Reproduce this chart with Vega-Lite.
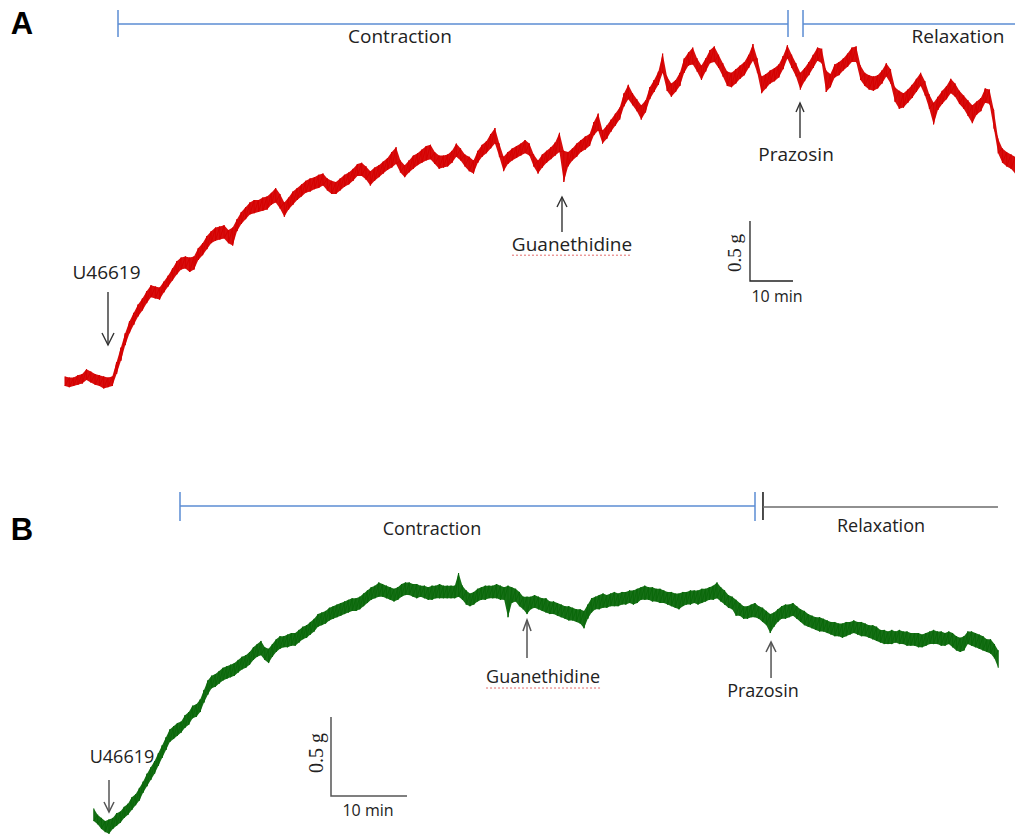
{
"$schema":"https://vega.github.io/schema/vega-lite/v6.json",
"width":1015,"height":839,"padding":0,"autosize":{"type":"none"},
"background":"white",
"config":{"view":{"stroke":null}},
"datasets":{
"A":[
{"t":-10,"h":0.03,"l":-0.05},{"t":-9,"h":0.02,"l":-0.06},{"t":-8,"h":0.02,"l":-0.05},{"t":-7,"h":0.04,"l":-0.04},{"t":-6,"h":0.05,"l":-0.03},{"t":-5,"h":0.09,"l":0.0},{"t":-4,"h":0.07,"l":-0.02},{"t":-3,"h":0.05,"l":-0.04},{"t":-2,"h":0.04,"l":-0.05},{"t":-1,"h":0.03,"l":-0.07},
{"t":0,"h":0.02,"l":-0.06},{"t":1,"h":0.03,"l":-0.05},{"t":2,"h":0.15,"l":0.05},{"t":3,"h":0.27,"l":0.16},{"t":4,"h":0.39,"l":0.29},{"t":5,"h":0.49,"l":0.39},{"t":6,"h":0.56,"l":0.46},{"t":7,"h":0.63,"l":0.53},{"t":8,"h":0.68,"l":0.58},{"t":9,"h":0.74,"l":0.64},
{"t":10,"h":0.79,"l":0.69},{"t":11,"h":0.78,"l":0.68},{"t":12,"h":0.77,"l":0.67},{"t":13,"h":0.82,"l":0.73},{"t":14,"h":0.87,"l":0.78},{"t":15,"h":0.93,"l":0.83},{"t":16,"h":0.99,"l":0.88},{"t":17,"h":1.02,"l":0.92},{"t":18,"h":1.03,"l":0.93},{"t":19,"h":1.02,"l":0.90},
{"t":20,"h":1.03,"l":0.92},{"t":21,"h":1.10,"l":1.00},{"t":22,"h":1.14,"l":1.04},{"t":23,"h":1.20,"l":1.09},{"t":24,"h":1.24,"l":1.14},{"t":25,"h":1.27,"l":1.16},{"t":26,"h":1.28,"l":1.17},{"t":27,"h":1.29,"l":1.18},{"t":28,"h":1.25,"l":1.14},{"t":29,"h":1.27,"l":1.12},
{"t":30,"h":1.34,"l":1.24},{"t":31,"h":1.40,"l":1.30},{"t":32,"h":1.44,"l":1.34},{"t":33,"h":1.48,"l":1.38},{"t":34,"h":1.50,"l":1.39},{"t":35,"h":1.50,"l":1.40},{"t":36,"h":1.52,"l":1.41},{"t":37,"h":1.53,"l":1.42},{"t":38,"h":1.56,"l":1.46},{"t":39,"h":1.60,"l":1.48},
{"t":40,"h":1.55,"l":1.43},{"t":41,"h":1.48,"l":1.36},{"t":42,"h":1.52,"l":1.42},{"t":43,"h":1.57,"l":1.46},{"t":44,"h":1.60,"l":1.50},{"t":45,"h":1.63,"l":1.53},{"t":46,"h":1.66,"l":1.56},{"t":47,"h":1.68,"l":1.57},{"t":48,"h":1.69,"l":1.59},{"t":49,"h":1.71,"l":1.60},
{"t":50,"h":1.72,"l":1.62},{"t":51,"h":1.68,"l":1.58},{"t":52,"h":1.66,"l":1.55},{"t":53,"h":1.65,"l":1.55},{"t":54,"h":1.68,"l":1.58},{"t":55,"h":1.71,"l":1.61},{"t":56,"h":1.73,"l":1.63},{"t":57,"h":1.76,"l":1.66},{"t":58,"h":1.80,"l":1.70},{"t":59,"h":1.81,"l":1.70},
{"t":60,"h":1.78,"l":1.67},{"t":61,"h":1.74,"l":1.62},{"t":62,"h":1.77,"l":1.66},{"t":63,"h":1.79,"l":1.69},{"t":64,"h":1.82,"l":1.72},{"t":65,"h":1.85,"l":1.75},{"t":66,"h":1.90,"l":1.77},{"t":67,"h":1.94,"l":1.80},{"t":68,"h":1.83,"l":1.73},{"t":69,"h":1.79,"l":1.69},
{"t":70,"h":1.83,"l":1.73},{"t":71,"h":1.87,"l":1.76},{"t":72,"h":1.89,"l":1.79},{"t":73,"h":1.92,"l":1.81},{"t":74,"h":1.95,"l":1.83},{"t":75,"h":1.96,"l":1.84},{"t":76,"h":1.90,"l":1.80},{"t":77,"h":1.87,"l":1.76},{"t":78,"h":1.87,"l":1.77},{"t":79,"h":1.88,"l":1.78},
{"t":80,"h":1.91,"l":1.81},{"t":81,"h":1.97,"l":1.86},{"t":82,"h":1.93,"l":1.83},{"t":83,"h":1.88,"l":1.78},{"t":84,"h":1.86,"l":1.74},{"t":85,"h":1.83,"l":1.72},{"t":86,"h":1.91,"l":1.81},{"t":87,"h":1.96,"l":1.86},{"t":88,"h":1.99,"l":1.89},{"t":89,"h":2.05,"l":1.93},
{"t":90,"h":2.10,"l":1.97},{"t":91,"h":1.97,"l":1.86},{"t":92,"h":1.86,"l":1.74},{"t":93,"h":1.90,"l":1.80},{"t":94,"h":1.93,"l":1.83},{"t":95,"h":1.95,"l":1.85},{"t":96,"h":1.97,"l":1.87},{"t":97,"h":2.00,"l":1.89},{"t":98,"h":1.97,"l":1.87},{"t":99,"h":1.88,"l":1.78},
{"t":100,"h":1.83,"l":1.72},{"t":101,"h":1.88,"l":1.77},{"t":102,"h":1.91,"l":1.81},{"t":103,"h":1.94,"l":1.84},{"t":104,"h":1.98,"l":1.87},{"t":105,"h":2.06,"l":1.90},{"t":106,"h":1.91,"l":1.65},{"t":107,"h":1.90,"l":1.78},{"t":108,"h":1.93,"l":1.83},{"t":109,"h":1.97,"l":1.86},
{"t":110,"h":2.00,"l":1.90},{"t":111,"h":2.03,"l":1.92},{"t":112,"h":2.05,"l":1.95},{"t":113,"h":2.15,"l":2.04},{"t":114,"h":2.22,"l":2.08},{"t":115,"h":2.08,"l":1.97},{"t":116,"h":2.12,"l":2.01},{"t":117,"h":2.17,"l":2.07},{"t":118,"h":2.22,"l":2.12},{"t":119,"h":2.27,"l":2.17},
{"t":120,"h":2.39,"l":2.28},{"t":121,"h":2.46,"l":2.34},{"t":122,"h":2.39,"l":2.29},{"t":123,"h":2.34,"l":2.24},{"t":124,"h":2.29,"l":2.17},{"t":125,"h":2.33,"l":2.23},{"t":126,"h":2.44,"l":2.34},{"t":127,"h":2.50,"l":2.40},{"t":128,"h":2.57,"l":2.46},{"t":129,"h":2.72,"l":2.56},
{"t":130,"h":2.53,"l":2.41},{"t":131,"h":2.47,"l":2.36},{"t":132,"h":2.50,"l":2.40},{"t":133,"h":2.56,"l":2.45},{"t":134,"h":2.68,"l":2.56},{"t":135,"h":2.73,"l":2.62},{"t":136,"h":2.77,"l":2.63},{"t":137,"h":2.68,"l":2.57},{"t":138,"h":2.62,"l":2.50},{"t":139,"h":2.68,"l":2.57},
{"t":140,"h":2.75,"l":2.64},{"t":141,"h":2.78,"l":2.65},{"t":142,"h":2.71,"l":2.60},{"t":143,"h":2.64,"l":2.53},{"t":144,"h":2.57,"l":2.45},{"t":145,"h":2.56,"l":2.44},{"t":146,"h":2.59,"l":2.47},{"t":147,"h":2.62,"l":2.51},{"t":148,"h":2.65,"l":2.54},{"t":149,"h":2.71,"l":2.60},
{"t":150,"h":2.80,"l":2.66},{"t":151,"h":2.68,"l":2.56},{"t":152,"h":2.53,"l":2.39},{"t":153,"h":2.55,"l":2.43},{"t":154,"h":2.58,"l":2.47},{"t":155,"h":2.60,"l":2.49},{"t":156,"h":2.63,"l":2.52},{"t":157,"h":2.70,"l":2.59},{"t":158,"h":2.79,"l":2.68},{"t":159,"h":2.71,"l":2.60},
{"t":160,"h":2.64,"l":2.53},{"t":161,"h":2.56,"l":2.42},{"t":162,"h":2.60,"l":2.49},{"t":163,"h":2.65,"l":2.54},{"t":164,"h":2.71,"l":2.60},{"t":165,"h":2.77,"l":2.66},{"t":166,"h":2.76,"l":2.64},{"t":167,"h":2.58,"l":2.40},{"t":168,"h":2.55,"l":2.44},{"t":169,"h":2.63,"l":2.52},
{"t":170,"h":2.65,"l":2.54},{"t":171,"h":2.68,"l":2.58},{"t":172,"h":2.72,"l":2.61},{"t":173,"h":2.77,"l":2.65},{"t":174,"h":2.78,"l":2.65},{"t":175,"h":2.62,"l":2.50},{"t":176,"h":2.56,"l":2.45},{"t":177,"h":2.54,"l":2.42},{"t":178,"h":2.53,"l":2.41},{"t":179,"h":2.54,"l":2.43},
{"t":180,"h":2.58,"l":2.47},{"t":181,"h":2.64,"l":2.53},{"t":182,"h":2.59,"l":2.47},{"t":183,"h":2.44,"l":2.32},{"t":184,"h":2.41,"l":2.26},{"t":185,"h":2.39,"l":2.27},{"t":186,"h":2.42,"l":2.31},{"t":187,"h":2.46,"l":2.35},{"t":188,"h":2.51,"l":2.40},{"t":189,"h":2.56,"l":2.45},
{"t":190,"h":2.49,"l":2.37},{"t":191,"h":2.38,"l":2.26},{"t":192,"h":2.31,"l":2.13},{"t":193,"h":2.36,"l":2.25},{"t":194,"h":2.41,"l":2.30},{"t":195,"h":2.45,"l":2.34},{"t":196,"h":2.51,"l":2.39},{"t":197,"h":2.47,"l":2.36},{"t":198,"h":2.41,"l":2.30},{"t":199,"h":2.37,"l":2.26},
{"t":200,"h":2.33,"l":2.20},{"t":201,"h":2.29,"l":2.14},{"t":202,"h":2.32,"l":2.21},{"t":203,"h":2.35,"l":2.24},{"t":204,"h":2.43,"l":2.31},{"t":205,"h":2.42,"l":2.30},{"t":206,"h":2.25,"l":2.10},{"t":207,"h":2.01,"l":1.89},{"t":208,"h":1.93,"l":1.81},{"t":209,"h":1.90,"l":1.78},
{"t":210,"h":1.88,"l":1.76},{"t":211,"h":1.86,"l":1.72}
],
"B":[
{"t":-2,"h":0.01,"l":-0.07},{"t":-1.5,"h":-0.03,"l":-0.09},{"t":-1,"h":-0.05,"l":-0.12},{"t":-0.5,"h":-0.07,"l":-0.14},{"t":0,"h":-0.06,"l":-0.15},{"t":0.5,"h":-0.05,"l":-0.12},{"t":1,"h":-0.02,"l":-0.10},{"t":1.5,"h":-0.01,"l":-0.08},{"t":2,"h":0.02,"l":-0.05},{"t":2.5,"h":0.04,"l":-0.03},
{"t":3,"h":0.08,"l":0.0},{"t":3.5,"h":0.10,"l":0.03},{"t":4,"h":0.14,"l":0.06},{"t":4.5,"h":0.18,"l":0.11},{"t":5,"h":0.23,"l":0.15},{"t":5.5,"h":0.27,"l":0.19},{"t":6,"h":0.31,"l":0.23},{"t":6.5,"h":0.36,"l":0.28},{"t":7,"h":0.41,"l":0.33},{"t":7.5,"h":0.46,"l":0.38},
{"t":8,"h":0.51,"l":0.43},{"t":8.5,"h":0.53,"l":0.45},{"t":9,"h":0.55,"l":0.47},{"t":9.5,"h":0.56,"l":0.49},{"t":10,"h":0.60,"l":0.52},{"t":10.5,"h":0.62,"l":0.54},{"t":11,"h":0.66,"l":0.58},{"t":11.5,"h":0.67,"l":0.59},{"t":12,"h":0.70,"l":0.62},{"t":12.5,"h":0.76,"l":0.68},
{"t":13,"h":0.82,"l":0.73},{"t":13.5,"h":0.85,"l":0.77},{"t":14,"h":0.86,"l":0.78},{"t":14.5,"h":0.88,"l":0.80},{"t":15,"h":0.90,"l":0.82},{"t":15.5,"h":0.91,"l":0.83},{"t":16,"h":0.92,"l":0.84},{"t":16.5,"h":0.93,"l":0.85},{"t":17,"h":0.95,"l":0.87},{"t":17.5,"h":0.97,"l":0.89},
{"t":18,"h":0.98,"l":0.90},{"t":18.5,"h":1.00,"l":0.92},{"t":19,"h":1.03,"l":0.95},{"t":19.5,"h":1.05,"l":0.97},{"t":20,"h":1.07,"l":0.98},{"t":20.5,"h":1.03,"l":0.95},{"t":21,"h":1.02,"l":0.93},{"t":21.5,"h":1.05,"l":0.97},{"t":22,"h":1.08,"l":1.00},{"t":22.5,"h":1.10,"l":1.02},
{"t":23,"h":1.10,"l":1.03},{"t":23.5,"h":1.11,"l":1.03},{"t":24,"h":1.12,"l":1.04},{"t":24.5,"h":1.12,"l":1.04},{"t":25,"h":1.14,"l":1.06},{"t":25.5,"h":1.16,"l":1.08},{"t":26,"h":1.17,"l":1.09},{"t":26.5,"h":1.19,"l":1.11},{"t":27,"h":1.21,"l":1.13},{"t":27.5,"h":1.24,"l":1.16},
{"t":28,"h":1.25,"l":1.17},{"t":28.5,"h":1.26,"l":1.18},{"t":29,"h":1.28,"l":1.20},{"t":29.5,"h":1.29,"l":1.21},{"t":30,"h":1.30,"l":1.22},{"t":30.5,"h":1.31,"l":1.23},{"t":31,"h":1.32,"l":1.24},{"t":31.5,"h":1.33,"l":1.25},{"t":32,"h":1.34,"l":1.26},{"t":32.5,"h":1.34,"l":1.26},
{"t":33,"h":1.35,"l":1.27},{"t":33.5,"h":1.37,"l":1.29},{"t":34,"h":1.39,"l":1.31},{"t":34.5,"h":1.41,"l":1.33},{"t":35,"h":1.42,"l":1.34},{"t":35.5,"h":1.44,"l":1.35},{"t":36,"h":1.43,"l":1.35},{"t":36.5,"h":1.42,"l":1.34},{"t":37,"h":1.41,"l":1.33},{"t":37.5,"h":1.40,"l":1.32},
{"t":38,"h":1.41,"l":1.33},{"t":38.5,"h":1.43,"l":1.35},{"t":39,"h":1.44,"l":1.36},{"t":39.5,"h":1.44,"l":1.36},{"t":40,"h":1.43,"l":1.35},{"t":40.5,"h":1.43,"l":1.34},{"t":41,"h":1.42,"l":1.35},{"t":41.5,"h":1.42,"l":1.34},{"t":42,"h":1.41,"l":1.33},{"t":42.5,"h":1.42,"l":1.33},
{"t":43,"h":1.42,"l":1.34},{"t":43.5,"h":1.43,"l":1.34},{"t":44,"h":1.42,"l":1.34},{"t":44.5,"h":1.42,"l":1.34},{"t":45,"h":1.42,"l":1.34},{"t":45.5,"h":1.42,"l":1.34},{"t":46,"h":1.50,"l":1.35},{"t":46.5,"h":1.42,"l":1.33},{"t":47,"h":1.39,"l":1.30},{"t":47.5,"h":1.37,"l":1.29},
{"t":48,"h":1.38,"l":1.30},{"t":48.5,"h":1.40,"l":1.32},{"t":49,"h":1.41,"l":1.33},{"t":49.5,"h":1.42,"l":1.33},{"t":50,"h":1.42,"l":1.34},{"t":50.5,"h":1.42,"l":1.34},{"t":51,"h":1.43,"l":1.34},{"t":51.5,"h":1.42,"l":1.33},{"t":52,"h":1.41,"l":1.33},{"t":52.5,"h":1.42,"l":1.22},
{"t":53,"h":1.41,"l":1.31},{"t":53.5,"h":1.40,"l":1.32},{"t":54,"h":1.38,"l":1.29},{"t":54.5,"h":1.35,"l":1.27},{"t":55,"h":1.35,"l":1.24},{"t":55.5,"h":1.35,"l":1.27},{"t":56,"h":1.36,"l":1.28},{"t":56.5,"h":1.35,"l":1.27},{"t":57,"h":1.34,"l":1.26},{"t":57.5,"h":1.34,"l":1.25},
{"t":58,"h":1.32,"l":1.24},{"t":58.5,"h":1.32,"l":1.24},{"t":59,"h":1.31,"l":1.23},{"t":59.5,"h":1.30,"l":1.22},{"t":60,"h":1.29,"l":1.21},{"t":60.5,"h":1.29,"l":1.20},{"t":61,"h":1.28,"l":1.20},{"t":61.5,"h":1.27,"l":1.19},{"t":62,"h":1.27,"l":1.18},{"t":62.5,"h":1.26,"l":1.15},
{"t":63,"h":1.30,"l":1.21},{"t":63.5,"h":1.34,"l":1.25},{"t":64,"h":1.35,"l":1.27},{"t":64.5,"h":1.36,"l":1.27},{"t":65,"h":1.37,"l":1.28},{"t":65.5,"h":1.36,"l":1.28},{"t":66,"h":1.37,"l":1.29},{"t":66.5,"h":1.38,"l":1.29},{"t":67,"h":1.37,"l":1.29},{"t":67.5,"h":1.38,"l":1.30},
{"t":68,"h":1.38,"l":1.30},{"t":68.5,"h":1.39,"l":1.31},{"t":69,"h":1.39,"l":1.30},{"t":69.5,"h":1.40,"l":1.31},{"t":70,"h":1.41,"l":1.33},{"t":70.5,"h":1.42,"l":1.33},{"t":71,"h":1.41,"l":1.33},{"t":71.5,"h":1.41,"l":1.32},{"t":72,"h":1.40,"l":1.32},{"t":72.5,"h":1.40,"l":1.31},
{"t":73,"h":1.39,"l":1.31},{"t":73.5,"h":1.38,"l":1.30},{"t":74,"h":1.38,"l":1.29},{"t":74.5,"h":1.37,"l":1.28},{"t":75,"h":1.37,"l":1.27},{"t":75.5,"h":1.38,"l":1.29},{"t":76,"h":1.38,"l":1.30},{"t":76.5,"h":1.39,"l":1.30},{"t":77,"h":1.39,"l":1.31},{"t":77.5,"h":1.39,"l":1.30},
{"t":78,"h":1.40,"l":1.31},{"t":78.5,"h":1.40,"l":1.32},{"t":79,"h":1.41,"l":1.33},{"t":79.5,"h":1.42,"l":1.33},{"t":80,"h":1.44,"l":1.34},{"t":80.5,"h":1.41,"l":1.32},{"t":81,"h":1.39,"l":1.30},{"t":81.5,"h":1.36,"l":1.28},{"t":82,"h":1.35,"l":1.27},{"t":82.5,"h":1.33,"l":1.23},
{"t":83,"h":1.31,"l":1.23},{"t":83.5,"h":1.29,"l":1.21},{"t":84,"h":1.29,"l":1.21},{"t":84.5,"h":1.30,"l":1.22},{"t":85,"h":1.31,"l":1.22},{"t":85.5,"h":1.29,"l":1.21},{"t":86,"h":1.28,"l":1.19},{"t":86.5,"h":1.26,"l":1.17},{"t":87,"h":1.24,"l":1.12},{"t":87.5,"h":1.25,"l":1.16},
{"t":88,"h":1.27,"l":1.19},{"t":88.5,"h":1.29,"l":1.21},{"t":89,"h":1.30,"l":1.21},{"t":89.5,"h":1.30,"l":1.22},{"t":90,"h":1.31,"l":1.23},{"t":90.5,"h":1.29,"l":1.21},{"t":91,"h":1.27,"l":1.19},{"t":91.5,"h":1.26,"l":1.17},{"t":92,"h":1.24,"l":1.16},{"t":92.5,"h":1.23,"l":1.15},
{"t":93,"h":1.22,"l":1.14},{"t":93.5,"h":1.22,"l":1.13},{"t":94,"h":1.21,"l":1.13},{"t":94.5,"h":1.20,"l":1.12},{"t":95,"h":1.19,"l":1.11},{"t":95.5,"h":1.19,"l":1.10},{"t":96,"h":1.18,"l":1.10},{"t":96.5,"h":1.18,"l":1.09},{"t":97,"h":1.19,"l":1.10},{"t":97.5,"h":1.19,"l":1.11},
{"t":98,"h":1.20,"l":1.12},{"t":98.5,"h":1.19,"l":1.11},{"t":99,"h":1.19,"l":1.10},{"t":99.5,"h":1.18,"l":1.10},{"t":100,"h":1.17,"l":1.09},{"t":100.5,"h":1.17,"l":1.08},{"t":101,"h":1.16,"l":1.07},{"t":101.5,"h":1.14,"l":1.06},{"t":102,"h":1.14,"l":1.05},{"t":102.5,"h":1.13,"l":1.05},
{"t":103,"h":1.14,"l":1.05},{"t":103.5,"h":1.13,"l":1.06},{"t":104,"h":1.14,"l":1.05},{"t":104.5,"h":1.13,"l":1.05},{"t":105,"h":1.13,"l":1.04},{"t":105.5,"h":1.12,"l":1.04},{"t":106,"h":1.12,"l":1.04},{"t":106.5,"h":1.12,"l":1.03},{"t":107,"h":1.11,"l":1.03},{"t":107.5,"h":1.12,"l":1.04},
{"t":108,"h":1.13,"l":1.05},{"t":108.5,"h":1.14,"l":1.05},{"t":109,"h":1.13,"l":1.05},{"t":109.5,"h":1.13,"l":1.04},{"t":110,"h":1.12,"l":1.04},{"t":110.5,"h":1.13,"l":1.05},{"t":111,"h":1.12,"l":1.03},{"t":111.5,"h":1.10,"l":1.01},{"t":112,"h":1.09,"l":1.00},{"t":112.5,"h":1.10,"l":1.01},
{"t":113,"h":1.13,"l":1.05},{"t":113.5,"h":1.13,"l":1.04},{"t":114,"h":1.12,"l":1.03},{"t":114.5,"h":1.11,"l":1.02},{"t":115,"h":1.10,"l":1.01},{"t":115.5,"h":1.08,"l":1.00},{"t":116,"h":1.08,"l":0.99},{"t":116.5,"h":1.05,"l":0.96},{"t":117,"h":1.01,"l":0.90}
]
},
"layer":[
{"layer":[
{"data":{"name":"A"},
 "mark":{"type":"area","color":"#d50000","opacity":0.95},
 "encoding":{
  "x":{"field":"t","type":"quantitative","scale":{"domain":[-25.116,210.93],"nice":false,"zero":false},"axis":null},
  "y":{"field":"h","type":"quantitative","scale":{"domain":[-3.825,3.1667],"nice":false,"zero":false},"axis":null},
  "y2":{"field":"l"}}},
{"data":{"name":"A"},"transform":[{"fold":["h","l"],"as":["k","g"]}],
 "mark":{"type":"line","color":"#d50000","strokeWidth":1,"strokeJoin":"bevel"},
 "encoding":{
  "x":{"field":"t","type":"quantitative","axis":null},
  "y":{"field":"g","type":"quantitative","axis":null},
  "order":[{"field":"t","type":"quantitative"},{"field":"k","type":"nominal"}]}},
{"data":{"values":[
{"id":"a1","o":0,"t":2.326,"g":2.967,"k":"br"},{"id":"a1","o":1,"t":158.14,"g":2.967,"k":"br"},
{"id":"a2","o":0,"t":2.326,"g":3.083,"k":"br"},{"id":"a2","o":1,"t":2.326,"g":2.858,"k":"br"},
{"id":"a3","o":0,"t":158.14,"g":3.083,"k":"br"},{"id":"a3","o":1,"t":158.14,"g":2.858,"k":"br"},
{"id":"a4","o":0,"t":161.63,"g":3.083,"k":"br"},{"id":"a4","o":1,"t":161.63,"g":2.858,"k":"br"},
{"id":"a5","o":0,"t":161.63,"g":2.967,"k":"br"},{"id":"a5","o":1,"t":210.93,"g":2.967,"k":"br"},
{"id":"a6","o":0,"t":0,"g":0.733,"k":"ar"},{"id":"a6","o":1,"t":0,"g":0.292,"k":"ar"},
{"id":"a7","o":0,"t":-1.395,"g":0.392,"k":"ar"},{"id":"a7","o":1,"t":0,"g":0.292,"k":"ar"},{"id":"a7","o":2,"t":1.395,"g":0.392,"k":"ar"},
{"id":"a8","o":0,"t":105.58,"g":1.525,"k":"ar"},{"id":"a8","o":1,"t":105.58,"g":1.233,"k":"ar"},
{"id":"a9","o":0,"t":104.42,"g":1.442,"k":"ar"},{"id":"a9","o":1,"t":105.58,"g":1.525,"k":"ar"},{"id":"a9","o":2,"t":106.74,"g":1.442,"k":"ar"},
{"id":"a10","o":0,"t":160.93,"g":2.308,"k":"ar"},{"id":"a10","o":1,"t":160.93,"g":2.017,"k":"ar"},
{"id":"a11","o":0,"t":160.0,"g":2.233,"k":"ar"},{"id":"a11","o":1,"t":160.93,"g":2.308,"k":"ar"},{"id":"a11","o":2,"t":161.86,"g":2.233,"k":"ar"},
{"id":"a12","o":0,"t":149.3,"g":1.325,"k":"sc"},{"id":"a12","o":1,"t":149.3,"g":0.825,"k":"sc"},{"id":"a12","o":2,"t":159.3,"g":0.825,"k":"sc"}
]},
 "mark":{"type":"line"},
 "encoding":{
  "x":{"field":"t","type":"quantitative","axis":null},
  "y":{"field":"g","type":"quantitative","axis":null},
  "detail":{"field":"id"},
  "order":{"field":"o","type":"quantitative"},
  "color":{"field":"k","type":"nominal","scale":{"domain":["br","ar","sc"],"range":["#5b8cd3","#333333","#222222"]},"legend":null},
  "strokeWidth":{"field":"k","type":"nominal","scale":{"domain":["br","ar","sc"],"range":[1.5,1.3,1.5]},"legend":null}}},
{"data":{"values":[{"t":93.95,"g":1.04},{"t":121.86,"g":1.04}]},
 "mark":{"type":"line","color":"#e36a6a","strokeWidth":1,"strokeDash":[2,2]},
 "encoding":{"x":{"field":"t","type":"quantitative","axis":null},"y":{"field":"g","type":"quantitative","axis":null}}},
{"data":{"values":[
{"t":67.91,"g":2.858,"s":"Contraction"},{"t":197.67,"g":2.858,"s":"Relaxation"},{"t":160.0,"g":1.875,"s":"Prazosin"},{"t":107.91,"g":1.125,"s":"Guanethidine"},{"t":-0.35,"g":0.892,"s":"U46619"}]},
 "mark":{"type":"text","font":"Open Sans","fontSize":19,"color":"#222222","align":"center","baseline":"middle"},
 "encoding":{"x":{"field":"t","type":"quantitative","axis":null},"y":{"field":"g","type":"quantitative","axis":null},"text":{"field":"s"}}},
{"data":{"values":[{"t":155.58,"g":0.692,"s":"10 min"}]},
 "mark":{"type":"text","font":"Open Sans","fontSize":16,"color":"#222222","align":"center","baseline":"middle"},
 "encoding":{"x":{"field":"t","type":"quantitative","axis":null},"y":{"field":"g","type":"quantitative","axis":null},"text":{"field":"s"}}},
{"data":{"values":[{"t":145.81,"g":1.058,"s":"0.5 g"}]},
 "mark":{"type":"text","font":"Liberation Serif","fontSize":19,"color":"#222222","align":"center","baseline":"middle","angle":270},
 "encoding":{"x":{"field":"t","type":"quantitative","axis":null},"y":{"field":"g","type":"quantitative","axis":null},"text":{"field":"s"}}},
{"data":{"values":[{"t":-20.0,"g":2.958,"s":"A"}]},
 "mark":{"type":"text","font":"Liberation Sans","fontWeight":"bold","fontSize":31,"color":"#000000","align":"center","baseline":"middle"},
 "encoding":{"x":{"field":"t","type":"quantitative","axis":null},"y":{"field":"g","type":"quantitative","axis":null},"text":{"field":"s"}}}
]},
{"layer":[
{"data":{"name":"B"},
 "mark":{"type":"area","color":"#0a680a","opacity":0.95},
 "encoding":{
  "x":{"field":"t","type":"quantitative","scale":{"domain":[-14.342,119.21],"nice":false,"zero":false},"axis":null},
  "y":{"field":"h","type":"quantitative","scale":{"domain":[-0.18354,5.1266],"nice":false,"zero":false},"axis":null},
  "y2":{"field":"l"}}},
{"data":{"name":"B"},"transform":[{"fold":["h","l"],"as":["k","g"]}],
 "mark":{"type":"line","color":"#0a680a","strokeWidth":1,"strokeJoin":"bevel"},
 "encoding":{
  "x":{"field":"t","type":"quantitative","axis":null},
  "y":{"field":"g","type":"quantitative","axis":null},
  "order":[{"field":"t","type":"quantitative"},{"field":"k","type":"nominal"}]}},
{"data":{"values":[
{"id":"b1","o":0,"t":9.342,"g":1.924,"k":"br"},{"id":"b1","o":1,"t":85.0,"g":1.924,"k":"br"},
{"id":"b2","o":0,"t":9.342,"g":2.013,"k":"br"},{"id":"b2","o":1,"t":9.342,"g":1.829,"k":"br"},
{"id":"b3","o":0,"t":85.0,"g":2.013,"k":"br"},{"id":"b3","o":1,"t":85.0,"g":1.829,"k":"br"},
{"id":"b4","o":0,"t":86.05,"g":2.013,"k":"bk"},{"id":"b4","o":1,"t":86.05,"g":1.835,"k":"bk"},
{"id":"b5","o":0,"t":86.05,"g":1.918,"k":"gr"},{"id":"b5","o":1,"t":116.97,"g":1.918,"k":"gr"},
{"id":"b6","o":0,"t":55.0,"g":1.203,"k":"ar"},{"id":"b6","o":1,"t":55.0,"g":0.962,"k":"ar"},
{"id":"b7","o":0,"t":54.47,"g":1.133,"k":"ar"},{"id":"b7","o":1,"t":55.0,"g":1.203,"k":"ar"},{"id":"b7","o":2,"t":55.53,"g":1.133,"k":"ar"},
{"id":"b8","o":0,"t":87.11,"g":1.063,"k":"ar"},{"id":"b8","o":1,"t":87.11,"g":0.835,"k":"ar"},
{"id":"b9","o":0,"t":86.45,"g":1.0,"k":"ar"},{"id":"b9","o":1,"t":87.11,"g":1.063,"k":"ar"},{"id":"b9","o":2,"t":87.76,"g":1.0,"k":"ar"},
{"id":"b10","o":0,"t":0,"g":0.19,"k":"ar"},{"id":"b10","o":1,"t":0,"g":-0.0127,"k":"ar"},
{"id":"b11","o":0,"t":-0.658,"g":0.0506,"k":"ar"},{"id":"b11","o":1,"t":0,"g":-0.0127,"k":"ar"},{"id":"b11","o":2,"t":0.658,"g":0.0506,"k":"ar"},
{"id":"b12","o":0,"t":29.21,"g":0.589,"k":"sc"},{"id":"b12","o":1,"t":29.21,"g":0.089,"k":"sc"},{"id":"b12","o":2,"t":39.21,"g":0.089,"k":"sc"}
]},
 "mark":{"type":"line"},
 "encoding":{
  "x":{"field":"t","type":"quantitative","axis":null},
  "y":{"field":"g","type":"quantitative","axis":null},
  "detail":{"field":"id"},
  "order":{"field":"o","type":"quantitative"},
  "color":{"field":"k","type":"nominal","scale":{"domain":["br","bk","gr","ar","sc"],"range":["#5b8cd3","#111111","#6b6b6b","#555555","#555555"]},"legend":null},
  "strokeWidth":{"field":"k","type":"nominal","scale":{"domain":["br","bk","gr","ar","sc"],"range":[1.5,1.5,2,1.2,1.5]},"legend":null}}},
{"data":{"values":[{"t":49.61,"g":0.772},{"t":64.61,"g":0.772}]},
 "mark":{"type":"line","color":"#e36a6a","strokeWidth":1,"strokeDash":[2,2]},
 "encoding":{"x":{"field":"t","type":"quantitative","axis":null},"y":{"field":"g","type":"quantitative","axis":null}}},
{"data":{"values":[
{"t":42.5,"g":1.772,"s":"Contraction"},{"t":101.58,"g":1.791,"s":"Relaxation"},{"t":57.11,"g":0.835,"s":"Guanethidine"},{"t":86.05,"g":0.747,"s":"Prazosin"},{"t":1.71,"g":0.329,"s":"U46619"}]},
 "mark":{"type":"text","font":"Open Sans","fontSize":18,"color":"#222222","align":"center","baseline":"middle"},
 "encoding":{"x":{"field":"t","type":"quantitative","axis":null},"y":{"field":"g","type":"quantitative","axis":null},"text":{"field":"s"}}},
{"data":{"values":[{"t":34.08,"g":-0.006,"s":"10 min"}]},
 "mark":{"type":"text","font":"Open Sans","fontSize":16,"color":"#222222","align":"center","baseline":"middle"},
 "encoding":{"x":{"field":"t","type":"quantitative","axis":null},"y":{"field":"g","type":"quantitative","axis":null},"text":{"field":"s"}}},
{"data":{"values":[{"t":27.37,"g":0.361,"s":"0.5 g"}]},
 "mark":{"type":"text","font":"Liberation Serif","fontSize":20,"color":"#222222","align":"center","baseline":"middle","angle":270},
 "encoding":{"x":{"field":"t","type":"quantitative","axis":null},"y":{"field":"g","type":"quantitative","axis":null},"text":{"field":"s"}}},
{"data":{"values":[{"t":-11.45,"g":1.766,"s":"B"}]},
 "mark":{"type":"text","font":"Liberation Sans","fontWeight":"bold","fontSize":31,"color":"#000000","align":"center","baseline":"middle"},
 "encoding":{"x":{"field":"t","type":"quantitative","axis":null},"y":{"field":"g","type":"quantitative","axis":null},"text":{"field":"s"}}}
]}
],
"resolve":{"scale":{"x":"independent","y":"independent","color":"independent","strokeWidth":"independent"}}
}
